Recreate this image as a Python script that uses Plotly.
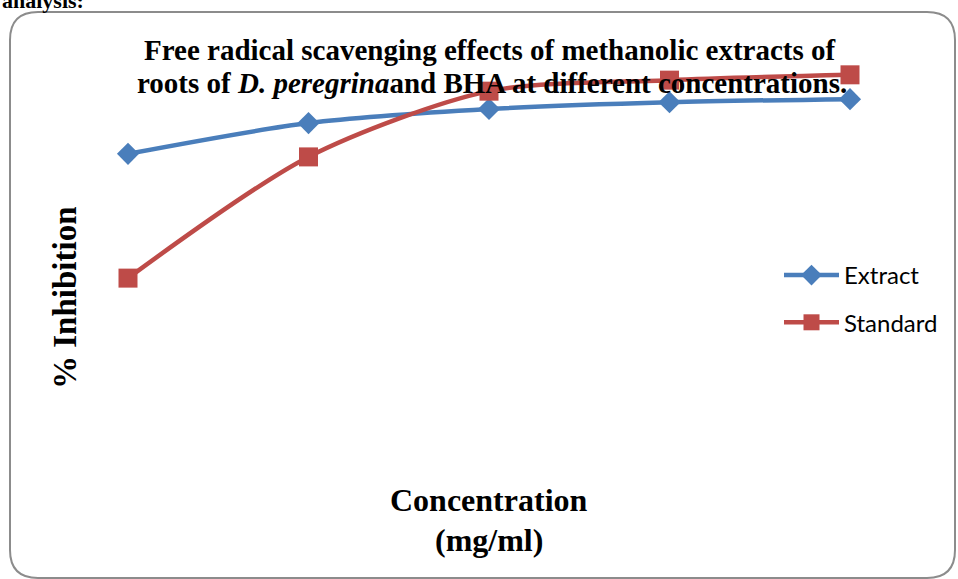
import plotly.graph_objects as go

# Data (no axis ticks are shown)
concentrations = [1, 2, 3, 4, 5]
extract = [75.3, 83.4, 87.1, 88.9, 89.7]
standard = [42.6, 74.5, 91.8, 94.7, 96.1]

W, H = 958, 579
L, R, T, B = 128, 850, 60, 440  # plot area in pixels


def px(x):
    return (x - L) / (R - L)


def py(y):
    return (B - y) / (B - T)


fig = go.Figure()
fig.add_trace(go.Scatter(
    x=concentrations, y=extract, name="Extract", mode="lines+markers",
    line=dict(color="#4A7EBB", width=4.5, shape="spline", smoothing=0.8),
    marker=dict(symbol="diamond", size=17, color="#4A7EBB"),
    cliponaxis=False, legendgroup="a"))
fig.add_trace(go.Scatter(
    x=concentrations, y=standard, name="Standard", mode="lines+markers",
    line=dict(color="#BE4B48", width=4.5, shape="spline", smoothing=0.8),
    marker=dict(symbol="square", size=19, color="#BE4B48"),
    cliponaxis=False, legendgroup="b"))

r = 28
x0, x1, y0, y1 = 10, 955, 12, 578
path = (f"M {px(x0+r)} {py(y0)} L {px(x1-r)} {py(y0)} Q {px(x1)} {py(y0)} {px(x1)} {py(y0+r)} "
        f"L {px(x1)} {py(y1-r)} Q {px(x1)} {py(y1)} {px(x1-r)} {py(y1)} "
        f"L {px(x0+r)} {py(y1)} Q {px(x0)} {py(y1)} {px(x0)} {py(y1-r)} "
        f"L {px(x0)} {py(y0+r)} Q {px(x0)} {py(y0)} {px(x0+r)} {py(y0)} Z")

serif = "Liberation Serif, Times New Roman, serif"


def ann(text, x, y, size, **kw):
    d = dict(text=text, x=px(x), y=py(y), xref="paper", yref="paper",
             xanchor="center", yanchor="middle", showarrow=False,
             font=dict(family=serif, size=size, color="#000"))
    d.update(kw)
    return d


fig.update_layout(
    width=W, height=H,
    margin=dict(l=L, r=W - R, t=T, b=H - B),
    paper_bgcolor="white", plot_bgcolor="white",
    xaxis=dict(range=[1, 5], visible=False),
    yaxis=dict(range=[0, 100], visible=False),
    showlegend=True,
    legend=dict(x=px(779), y=py(253), xanchor="left", yanchor="top",
                font=dict(family="Lato, Open Sans, sans-serif", size=24, color="#000"),
                tracegroupgap=13, itemwidth=55, bgcolor="rgba(0,0,0,0)"),
    shapes=[dict(type="path", path=path, xref="paper", yref="paper",
                 line=dict(color="#8c8c8c", width=2), layer="below")],
    annotations=[
        ann("<b>Free radical scavenging effects of methanolic extracts of</b>", 490, 50, 29),
        ann("<b>roots of <i>D. peregrina</i>and BHA at different concentrations.</b>", 492, 83, 29),
        ann("<b>Concentration</b>", 489, 500, 32),
        ann("<b>(mg/ml)</b>", 489, 540, 32),
        ann("<b>% Inhibition</b>", 65, 298, 33, textangle=-90),
        dict(text="<b>analysis:</b>", x=px(0), y=py(15), xref="paper", yref="paper",
             xanchor="left", yanchor="bottom", showarrow=False,
             font=dict(family=serif, size=22, color="#000")),
    ],
)

fig.write_html("out.html", config={"displayModeBar": False},
               post_script="document.body.style.margin='0';")
